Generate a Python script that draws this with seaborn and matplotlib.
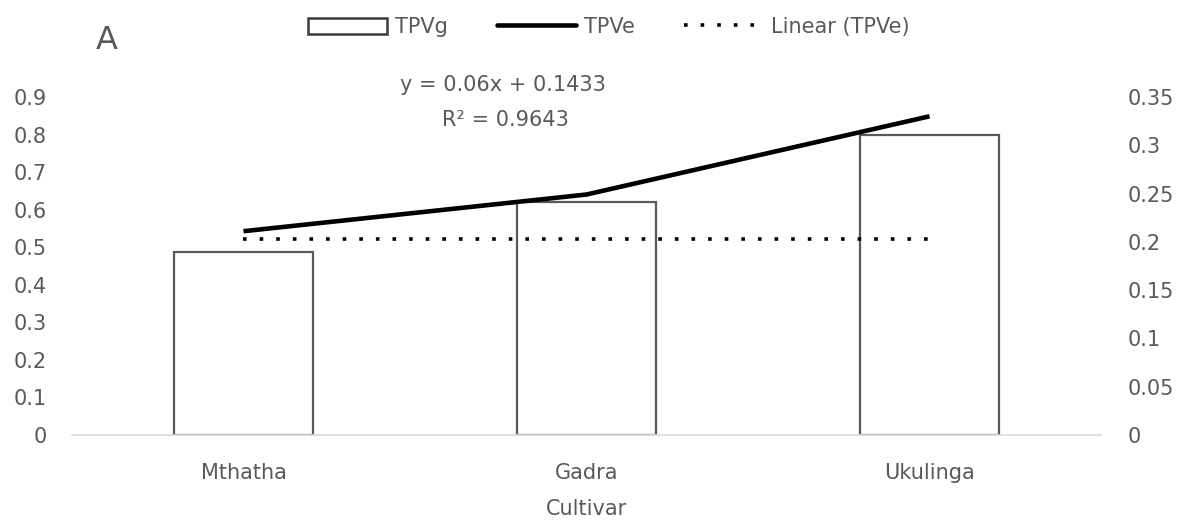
import numpy as np
import pandas as pd
import matplotlib
matplotlib.use("Agg")
import matplotlib.pyplot as plt
import seaborn as sns
from matplotlib.patches import Patch
from matplotlib.lines import Line2D

# Data
cultivars = ["Mthatha", "Gadra", "Ukulinga"]
tpvg = [0.488, 0.62, 0.80]             # left axis (bars)
tpve = [0.211, 0.249, 0.330]           # right axis (line)
tpve_trend = [0.2033, 0.2033, 0.2033]  # Linear (TPVe) as plotted
left_ticks = [0, 0.1, 0.2, 0.3, 0.4, 0.5, 0.6, 0.7, 0.8, 0.9]
right_ticks = [0, 0.05, 0.1, 0.15, 0.2, 0.25, 0.3, 0.35]
equation = "y = 0.06x + 0.1433"
r_squared = "R² = 0.9643"
legend_labels = ["TPVg", "TPVe", "Linear (TPVe)"]

sns.set_theme(style="white")
plt.rcParams["font.family"] = ["DejaVu Sans"]
TXT = "#595959"
FS = 15

df = pd.DataFrame({"Cultivar": cultivars, "TPVg": tpvg, "TPVe": tpve,
                   "trend": tpve_trend, "pos": np.arange(len(cultivars))})

fig = plt.figure(figsize=(11.78, 5.27), dpi=100)
ax = fig.add_axes([0.0611, 0.1746, 0.8736, 0.6414])

sns.barplot(data=df, x="Cultivar", y="TPVg", ax=ax, width=0.405,
            color="white", edgecolor="#595959", linewidth=1.6, saturation=1)
ax.set_ylim(0, 0.9)
ax.set_xlim(-0.5, len(cultivars) - 0.5)
ax.set_yticks(left_ticks)
ax.set_yticklabels(["0" if t == 0 else f"{t:g}" for t in left_ticks])

ax2 = ax.twinx()
dots = (0, (1, 3.6))
sns.lineplot(data=df, x="pos", y="TPVe", ax=ax2, color="black", lw=3.3,
             solid_capstyle="butt")
sns.lineplot(data=df, x="pos", y="trend", ax=ax2, color="black", lw=2.6,
             linestyle=dots)
ax2.set_ylim(0, 0.35)
ax2.set_xlim(-0.5, len(cultivars) - 0.5)
ax2.set_yticks(right_ticks)
ax2.set_yticklabels(["0" if t == 0 else f"{t:g}" for t in right_ticks])

for a in (ax, ax2):
    for s in a.spines.values():
        s.set_visible(False)
    a.tick_params(axis="both", length=0, labelsize=FS, labelcolor=TXT)
    a.set_ylabel("")
ax.spines["bottom"].set_visible(True)
ax.spines["bottom"].set_color("#d9d9d9")
ax.spines["bottom"].set_linewidth(1.2)
ax.tick_params(axis="y", pad=18)
ax2.tick_params(axis="y", pad=19)
ax.tick_params(axis="x", pad=20)
ax.set_xlabel("Cultivar", fontsize=FS, color=TXT, labelpad=12)

# Trendline equation
fig.text(0.427, 0.8387, equation, ha="center", va="center", fontsize=FS, color=TXT)
fig.text(0.429, 0.773, r_squared, ha="center", va="center", fontsize=FS, color=TXT)

# Panel letter
fig.text(0.0908, 0.924, "A", ha="center", va="center", fontsize=23, color=TXT)

handles = [
    Patch(facecolor="white", edgecolor="#3a3a3a", linewidth=1.8),
    Line2D([0], [0], color="black", lw=3.3),
    Line2D([0], [0], color="black", lw=2.6, linestyle=dots),
]
fig.legend(handles, legend_labels, loc="center left",
           bbox_to_anchor=(308 / 1178, 1 - 27 / 527), ncol=3, frameon=False,
           fontsize=FS, labelcolor=TXT, handlelength=3.8, handleheight=0.8,
           columnspacing=2.35, handletextpad=0.38, borderpad=0,
           borderaxespad=0)

fig.savefig("out.png", dpi=100, facecolor="white")
